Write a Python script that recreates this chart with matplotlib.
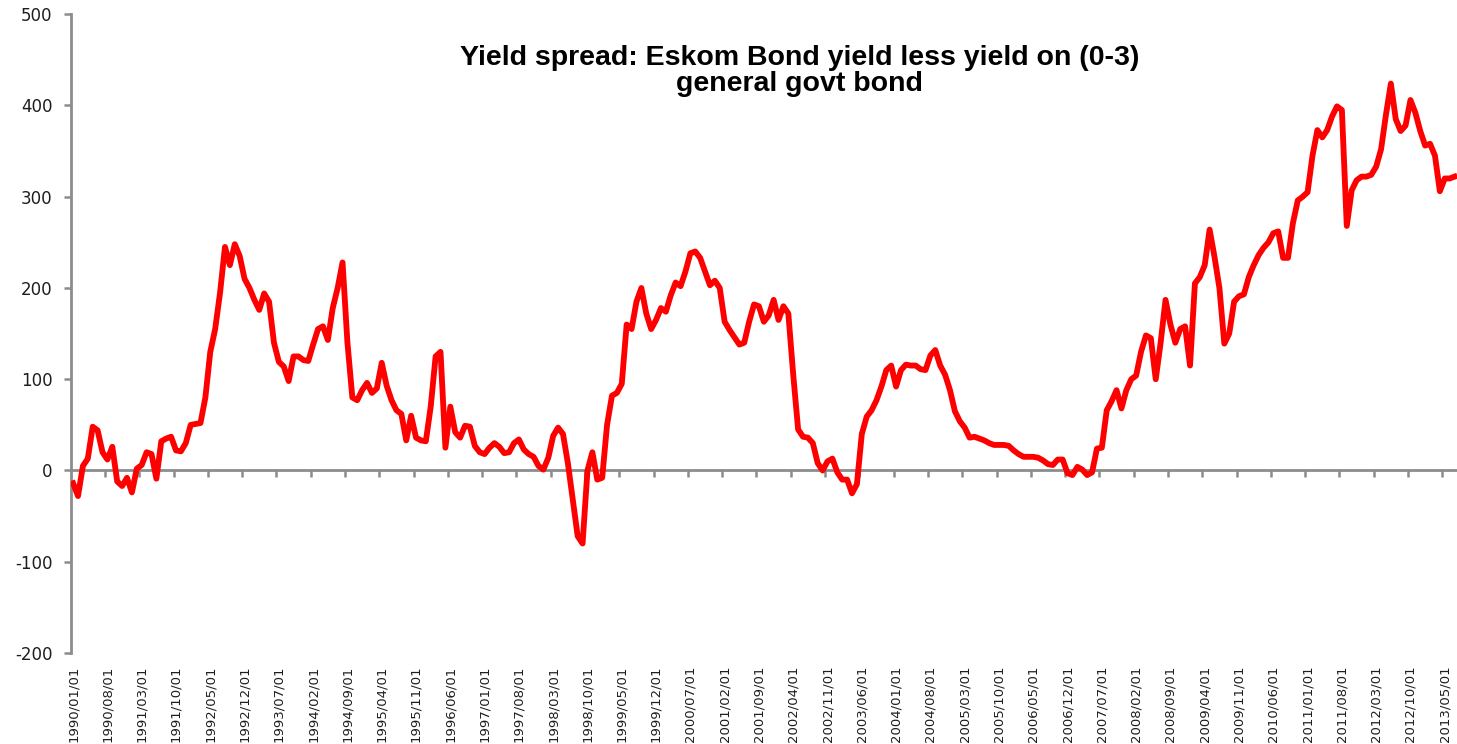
import matplotlib.pyplot as plt
import numpy as np
import pandas as pd

plt.rcParams["axes.unicode_minus"] = False

# monthly observations, 1990/01 .. 2013/07 (basis points)
start_month = "1990-01-01"
spread = [
    -14, -28, 5, 13, 48, 44, 20, 12, 26, -12,
    -17, -8, -24, 2, 6, 20, 18, -9, 32, 35,
    37, 22, 21, 30, 50, 51, 52, 80, 130, 155,
    195, 245, 225, 248, 235, 210, 200, 187, 176, 194,
    185, 140, 119, 114, 98, 125, 125, 121, 120, 138,
    155, 158, 143, 178, 200, 228, 140, 80, 77, 88,
    96, 85, 90, 118, 93, 77, 66, 62, 33, 60,
    36, 33, 32, 70, 125, 130, 25, 70, 42, 36,
    49, 48, 27, 20, 18, 25, 30, 26, 19, 20,
    30, 34, 23, 18, 15, 5, 1, 14, 38, 47,
    40, 8, -32, -72, -80, 0, 20, -10, -8, 50,
    82, 85, 95, 160, 155, 185, 200, 172, 155, 165,
    178, 174, 192, 206, 202, 218, 238, 240, 233, 218,
    203, 208, 200, 163, 154, 146, 138, 140, 163, 182,
    180, 163, 170, 187, 165, 180, 172, 105, 45, 37,
    36, 30, 8, 0, 10, 13, -2, -10, -10, -25,
    -15, 40, 59, 66, 77, 92, 110, 115, 92, 110,
    116, 115, 115, 111, 110, 126, 132, 115, 105, 88,
    65, 54, 47, 36, 37, 35, 33, 30, 28, 28,
    28, 27, 22, 18, 15, 15, 15, 14, 11, 7,
    6, 12, 12, -3, -5, 4, 1, -5, -2, 24,
    25, 66, 76, 88, 68, 88, 100, 104, 130, 148,
    145, 100, 140, 187, 160, 140, 155, 158, 115, 205,
    212, 225, 264, 234, 200, 139, 150, 185, 191, 193,
    212, 225, 236, 244, 250, 260, 262, 233, 233, 271,
    296, 300, 305, 345, 373, 365, 373, 388, 399, 395,
    268, 307, 318, 322, 322, 324, 333, 352, 390, 424,
    385, 372, 378, 406, 392, 372, 356, 358, 345, 306,
    320, 320, 322,
]
label_every = 7
y_ticks = [-200, -100, 0, 100, 200, 300, 400, 500]
title = "Yield spread: Eskom Bond yield less yield on (0-3)\ngeneral govt bond"

dates = pd.date_range(start_month, periods=len(spread), freq="MS")
labels = [d.strftime("%Y/%m/%d") for d in dates]
x = np.arange(len(spread))

axis_grey = "#8c8c8c"
text_col = "#1e1e1e"

fig = plt.figure(figsize=(14.57, 7.44), dpi=100)
ax = fig.add_axes([0.0485, 0.1223, 0.9515, 0.8586])

ax.plot(x, spread, color="#ff0000", lw=4.2, solid_joinstyle="round", zorder=3)

ax.set_xlim(-0.5, len(spread) - 0.5)
ax.set_ylim(-200, 500)

# y axis
ax.set_yticks(y_ticks)
ax.tick_params(axis="y", direction="out", length=5, width=1.8, color=axis_grey,
               labelsize=12, labelcolor=text_col, pad=8)
for s in ["top", "right", "bottom"]:
    ax.spines[s].set_visible(False)
ax.spines["left"].set_color(axis_grey)
ax.spines["left"].set_linewidth(2)

# category labels at the bottom
ax.set_xticks(x[::label_every])
ax.set_xticklabels(labels[::label_every], rotation=90)
ax.tick_params(axis="x", length=0, labelsize=9.5, labelcolor=text_col, pad=9)

# horizontal axis line at zero with tick marks between categories
zero_frac = (0 - y_ticks[0]) / (y_ticks[-1] - y_ticks[0])
sec = ax.secondary_xaxis(zero_frac)
sec.set_xticks(np.arange(-0.5, len(spread), label_every)[1:])
sec.set_xticklabels([])
sec.spines["bottom"].set_color(axis_grey)
sec.spines["bottom"].set_linewidth(2)
sec.tick_params(axis="x", direction="out", length=5, width=1.8, color=axis_grey)

fig.text(0.549, 1 - 45 / 744, title, ha="center", va="top",
         fontsize=20.5, fontweight="bold", family="Liberation Sans",
         linespacing=1.02, color="#000000")

fig.savefig("out.png", dpi=100)
